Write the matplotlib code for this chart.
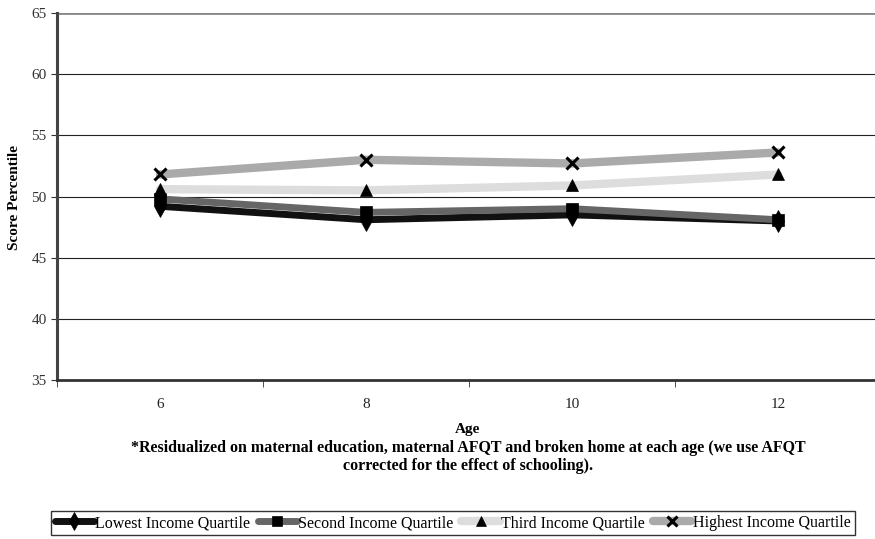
import matplotlib.pyplot as plt
import numpy as np

plt.rcParams['font.family'] = ['Liberation Serif', 'DejaVu Serif']

ages = ["6", "8", "10", "12"]
lowest = [49.2, 48.1, 48.5, 48.0]
second = [49.8, 48.7, 49.0, 48.1]
third = [50.6, 50.5, 50.9, 51.8]
highest = [51.8, 53.0, 52.7, 53.6]

series = [
    ("Lowest Income Quartile", lowest, "#111111", "d", 5.0, 11),
    ("Second Income Quartile", second, "#666666", "s", 5.0, 9),
    ("Third Income Quartile", third, "#dddddd", "^", 6.0, 9),
    ("Highest Income Quartile", highest, "#aaaaaa", "x", 6.0, 9),
]


def plot_scores():
    fig = plt.figure(figsize=(8.75, 5.39), dpi=100)
    # plot area runs a little past the right edge, like the original
    ax = fig.add_axes([57 / 875, 1 - 380 / 539, 824 / 875, 367 / 539])

    x = np.arange(len(ages)) + 0.5
    for name, vals, color, marker, lw, ms in series:
        ax.plot(x, vals, color=color, linewidth=lw, marker=marker,
                markersize=ms, markerfacecolor="black", markeredgecolor="black",
                markeredgewidth=2.2 if marker == "x" else 0.5, label=name,
                solid_capstyle="round", zorder=3)

    ax.set_xlim(0, len(ages))
    ax.set_ylim(35, 65)
    ax.set_yticks(range(35, 70, 5))
    ax.set_xticks(x)
    ax.set_xticklabels(ages)
    ax.set_xticks(np.arange(len(ages) + 1), minor=True)
    ax.tick_params(axis="x", which="major", length=0, pad=13, labelsize=11, colors="#222222")
    ax.tick_params(axis="x", which="minor", length=5, direction="out", color="#333333")
    ax.tick_params(axis="y", length=4, direction="out", labelsize=11, colors="#333333")

    for yv in range(40, 65, 5):
        ax.axhline(yv, color="#222222", linewidth=0.8, zorder=1)
    ax.axhline(65, color="#888888", linewidth=2, zorder=1)

    for side in ["top", "right"]:
        ax.spines[side].set_visible(False)
    ax.spines["left"].set_color("#444444")
    ax.spines["left"].set_linewidth(2.2)
    ax.spines["bottom"].set_color("#333333")
    ax.spines["bottom"].set_linewidth(2)

    fig.text(15 / 875, 1 - 197 / 539, "Score Percentile", rotation=90,
             ha="center", va="center", fontsize=11, fontweight="bold")
    fig.text(468 / 875, 1 - 430 / 539, "Age", ha="center", va="center",
             fontsize=11, fontweight="bold")
    fig.text(468 / 875, 1 - 457 / 539,
             "*Residualized on maternal education, maternal AFQT and broken home at each age (we use AFQT\n"
             "corrected for the effect of schooling).",
             ha="center", va="center", fontsize=11.5, fontweight="bold", linespacing=1.2)

    leg = fig.legend(loc="center", bbox_to_anchor=(453 / 875, 1 - 523 / 539), ncol=4,
                     frameon=True, fancybox=False, fontsize=11.5, handlelength=2.4,
                     handletextpad=0.1, columnspacing=0.5, borderpad=0.25,
                     markerscale=0.8)
    leg.get_frame().set_edgecolor("black")
    leg.get_frame().set_linewidth(1)

    fig.savefig("out.png", dpi=100)


if __name__ == "__main__":
    plot_scores()
